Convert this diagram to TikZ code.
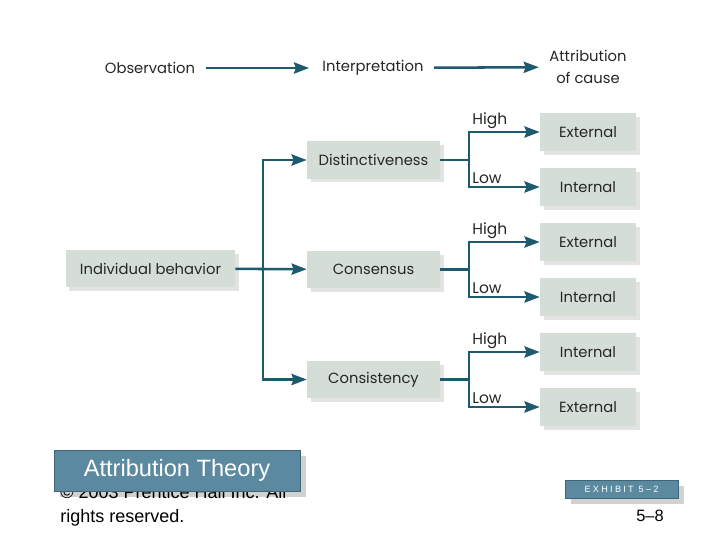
\documentclass[tikz,border=0pt]{standalone}
\usepackage{fontspec}
\setmainfont{Poppins}
\newfontfamily\slidefont{Liberation Sans}
\usetikzlibrary{arrows.meta,shadows}

\definecolor{flowline}{HTML}{1E5A6D}
\definecolor{boxfill}{HTML}{D5DED6}
\definecolor{slideblue}{HTML}{5A89A0}
\definecolor{slideedge}{HTML}{3F6577}

\tikzset{
  line/.style={draw=flowline, line width=1.8pt},
  flow/.style={line, -{Stealth[length=3.8mm,width=2.8mm,inset=0.5mm]}},
  step box/.style={fill=boxfill, minimum width=3.325cm, minimum height=0.925cm,
    drop shadow={shadow xshift=2.5pt, shadow yshift=-2.5pt, opacity=0.18, fill=black!60}},
  cause/.style={step box, minimum width=2.4cm, minimum height=0.95cm},
  word/.style={text=black!85, font=\fontsize{10.5}{16}\selectfont},
  branch/.style={anchor=south west, inner sep=1.5pt, text=black!85, font=\fontsize{11}{13}\selectfont},
  slidebox/.style={fill=slideblue, draw=slideedge, line width=0.6pt, text=white},
  slideshadow/.style={fill=black!18}
}

\begin{document}
\begin{tikzpicture}[x=0.025cm, y=-0.025cm]
  \useasboundingbox (0,0) rectangle (720,540);
  % Top row
  \node[word] (obs) at (150,68) {Observation};
  \node[word] (interp) at (373,68) {Interpretation};
  \node[word, align=center] (attr) at (588,67) {Attribution\\of cause};
  \draw[flow, shorten <=4pt, shorten >=6pt] (obs) -- (interp);
  \draw[flow, shorten <=4pt, shorten >=4pt] (interp) -- (attr);
  % Behaviour and the three cues
  \node[step box, word, minimum width=4.225cm] (behav) at (150.5,268.5) {Individual behavior};
  \node[step box, word] (dist) at (373.5,160) {Distinctiveness};
  \node[step box, word] (cons) at (373.5,269.5) {Consensus};
  \node[step box, word] (consis) at (373.5,379.5) {Consistency};
  % Causes
  \node[cause, word] (ext1) at (588,132) {External};
  \node[cause, word] (int1) at (588,187) {Internal};
  \node[cause, word] (ext2) at (588,242) {External};
  \node[cause, word] (int2) at (588,297) {Internal};
  \node[cause, word] (int3) at (588,352) {Internal};
  \node[cause, word] (ext3) at (588,407) {External};
  % Split from individual behavior
  \coordinate (split) at (263,269);
  \draw[line] (behav) -- (split);
  \draw[flow] (split) -- (cons);
  \draw[flow] (split) |- (dist);
  \draw[flow] (split) |- (consis);
  % Distinctiveness fork
  \coordinate (fork1) at (469,160);
  \draw[line] (dist) -- (fork1);
  \draw[flow] (fork1) |- (ext1) node[branch, pos=0.5] {High};
  \draw[flow] (fork1) |- (int1) node[branch, pos=0.5] {Low};
  % Consensus fork
  \coordinate (fork2) at (469,269.5);
  \draw[line] (cons) -- (fork2);
  \draw[flow] (fork2) |- (ext2) node[branch, pos=0.5] {High};
  \draw[flow] (fork2) |- (int2) node[branch, pos=0.5] {Low};
  % Consistency fork
  \coordinate (fork3) at (469,379.5);
  \draw[line] (consis) -- (fork3);
  \draw[flow] (fork3) |- (int3) node[branch, pos=0.5] {High};
  \draw[flow] (fork3) |- (ext3) node[branch, pos=0.5] {Low};
  % Slide footer: shadows first, then text, then the boxes on top
  \fill[slideshadow] (60,456) rectangle (306,497);
  \fill[slideshadow] (571,486) rectangle (684,504);
  \node[anchor=north west, align=left, inner sep=0pt,
    font=\slidefont\fontsize{12.8}{16.5}\selectfont] (copy) at (60,485.5)
    {\textcopyright{} 2003 Prentice Hall Inc. All\\rights reserved.};
  \node[slidebox, minimum width=6.15cm, minimum height=1.025cm,
    font=\slidefont\fontsize{16.8}{19}\selectfont] (title) at (177,470.5) {Attribution Theory};
  \node[slidebox, minimum width=2.825cm, minimum height=0.45cm,
    font=\slidefont\addfontfeature{LetterSpace=25}\fontsize{6.5}{8}\selectfont] (exhibit) at (621.5,489) {EXHIBIT 5–2};
  \node[font=\slidefont\fontsize{11.7}{14}\selectfont] (page) at (650,516) {5–8};
\end{tikzpicture}
\end{document}
